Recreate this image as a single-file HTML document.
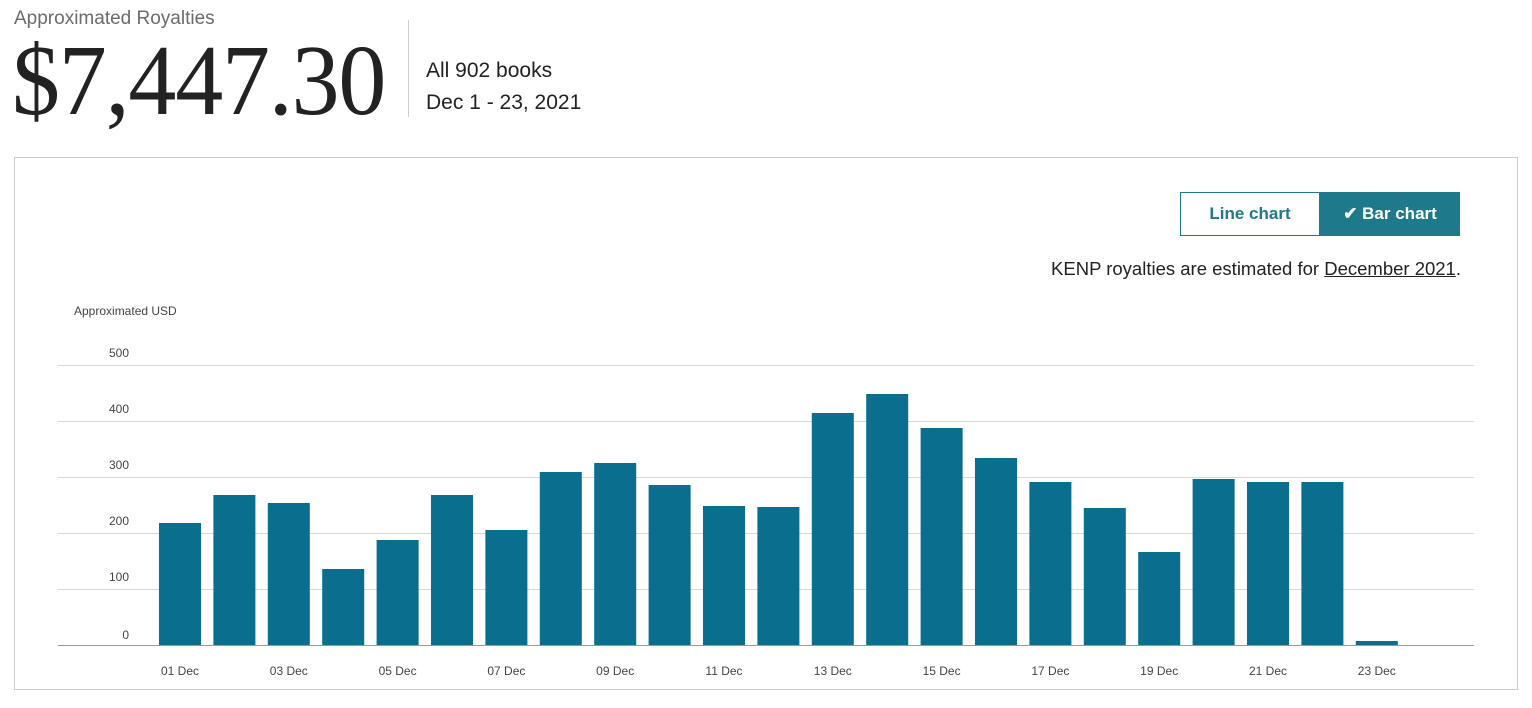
<!DOCTYPE html>
<html><head><meta charset="utf-8"><style>
body{margin:0;width:1532px;height:708px;background:#fff;position:relative;overflow:hidden;font-family:"Liberation Sans",sans-serif;}
.a{position:absolute;white-space:nowrap;}
</style></head><body>
<div class="a" style="left:14px;top:8px;font-size:19px;color:#6b6b6b;">Approximated Royalties</div>
<div class="a" style="left:12px;top:26px;font-family:'Liberation Serif',serif;font-size:96px;line-height:104px;color:#222;letter-spacing:-1.2px;transform:scaleY(1.05);transform-origin:left top;">$7,447.30</div>
<div class="a" style="left:408px;top:20px;width:1px;height:97px;background:#ccc;"></div>
<div class="a" style="left:426px;top:59px;font-size:21px;color:#222;">All 902 books</div>
<div class="a" style="left:426px;top:91px;font-size:21px;color:#222;">Dec 1 - 23, 2021</div>
<div class="a" style="left:14px;top:157px;width:1502px;height:531px;border:1px solid #ccc;"></div>
<div class="a" style="left:1180px;top:192px;width:138px;height:42px;border:1px solid #1e7a8a;color:#1e7a8a;font-weight:bold;font-size:17px;line-height:42px;text-align:center;">Line chart</div>
<div class="a" style="left:1320px;top:192px;width:140px;height:44px;background:#1e7a8a;color:#fff;font-weight:bold;font-size:17px;line-height:44px;text-align:center;">✔ Bar chart</div>
<div class="a" style="right:71px;top:258px;font-size:18.5px;color:#222;">KENP royalties are estimated for <u>December 2021</u>.</div>
<svg class="a" style="left:0;top:0" width="1532" height="708">
<g font-family="Liberation Sans" font-size="12" fill="#444">
<text x="74" y="315">Approximated USD</text>
<text x="129" y="357" text-anchor="end">500</text>
<text x="129" y="413" text-anchor="end">400</text>
<text x="129" y="469" text-anchor="end">300</text>
<text x="129" y="525" text-anchor="end">200</text>
<text x="129" y="581" text-anchor="end">100</text>
<text x="129" y="639" text-anchor="end">0</text>
</g>
<g stroke="#d8d8d8" stroke-width="1">
<line x1="58" x2="1474" y1="365.5" y2="365.5"/><line x1="58" x2="1474" y1="421.5" y2="421.5"/>
<line x1="58" x2="1474" y1="477.5" y2="477.5"/><line x1="58" x2="1474" y1="533.5" y2="533.5"/>
<line x1="58" x2="1474" y1="589.5" y2="589.5"/>
</g>
<line x1="58" x2="1474" y1="645.5" y2="645.5" stroke="#999"/>
<g id="bars" fill="#0a6e8e"></g>
<g id="lbl" font-family="Liberation Sans" font-size="12" fill="#444" text-anchor="middle"></g>
</svg>
<script>
var t=[523,495,503,569,540,495,530,472,463,485,506,507,413,394,428,458,482,508,552,479,482,482,641];
var b=document.getElementById('bars'),l=document.getElementById('lbl'),s='',q='';
t.forEach(function(y,i){var c=180+i*54.4;s+='<rect x="'+(c-21)+'" y="'+y+'" width="42" height="'+(645-y)+'"/>';
if(i%2==0)q+='<text x="'+c+'" y="675">'+String(i+1).padStart(2,'0')+' Dec</text>';});
b.innerHTML=s;l.innerHTML=q;
</script>
</body></html>
